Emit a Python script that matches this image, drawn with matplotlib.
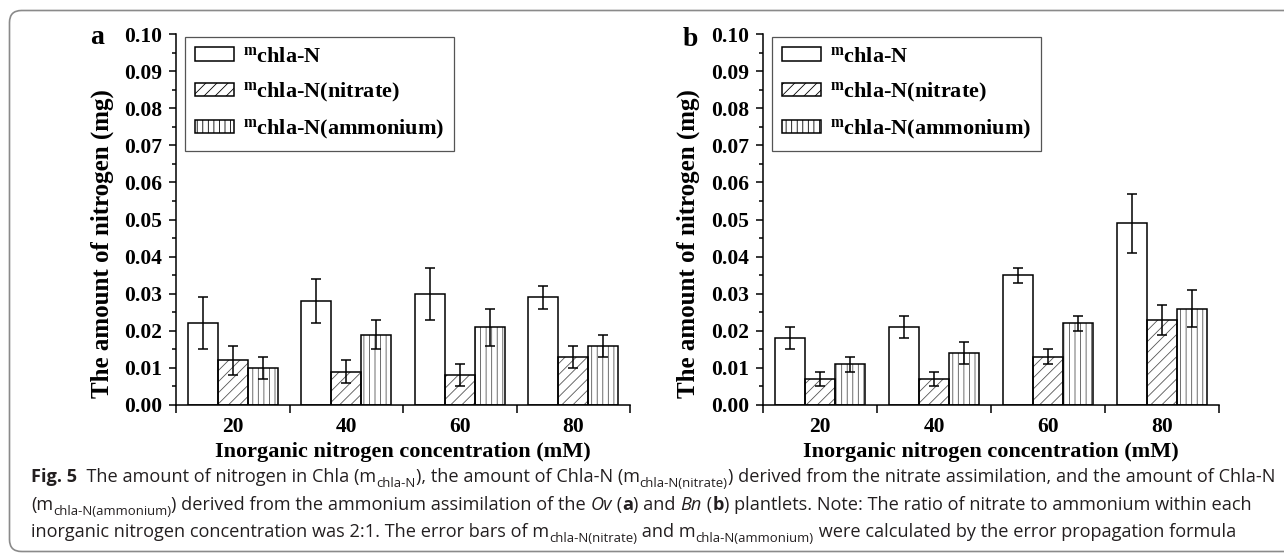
import matplotlib
matplotlib.use('Agg')
import matplotlib.pyplot as plt
import numpy as np
from matplotlib.patches import FancyBboxPatch, Rectangle
from matplotlib.transforms import IdentityTransform
from matplotlib.font_manager import FontProperties
from matplotlib.ticker import FormatStrFormatter

plt.rcParams['font.family'] = 'Liberation Serif'
plt.rcParams['font.weight'] = 'bold'
plt.rcParams['mathtext.fontset'] = 'custom'
plt.rcParams['mathtext.rm'] = 'Liberation Serif:bold'
plt.rcParams['mathtext.it'] = 'Liberation Serif:bold:italic'
plt.rcParams['mathtext.bf'] = 'Liberation Serif:bold'
plt.rcParams['hatch.linewidth'] = 0.6

# ---------------- data ----------------
categories = ['20', '40', '60', '80']
series_labels = [r'$^{\rm m}$chla-N', r'$^{\rm m}$chla-N(nitrate)', r'$^{\rm m}$chla-N(ammonium)']

a_total = [0.022, 0.028, 0.030, 0.029]
a_total_err = [0.007, 0.006, 0.007, 0.003]
a_nitrate = [0.012, 0.009, 0.008, 0.013]
a_nitrate_err = [0.004, 0.003, 0.003, 0.003]
a_ammonium = [0.010, 0.019, 0.021, 0.016]
a_ammonium_err = [0.003, 0.004, 0.005, 0.003]

b_total = [0.018, 0.021, 0.035, 0.049]
b_total_err = [0.003, 0.003, 0.002, 0.008]
b_nitrate = [0.007, 0.007, 0.013, 0.023]
b_nitrate_err = [0.002, 0.002, 0.002, 0.004]
b_ammonium = [0.011, 0.014, 0.022, 0.026]
b_ammonium_err = [0.002, 0.003, 0.002, 0.005]

y_ticks = [0.00, 0.01, 0.02, 0.03, 0.04, 0.05, 0.06, 0.07, 0.08, 0.09, 0.10]
xlabel_text = 'Inorganic nitrogen concentration (mM)'
ylabel_text = 'The amount of nitrogen (mg)'

# ---------------- figure ----------------
W, H = 1284, 555
fig = plt.figure(figsize=(W / 100, H / 100), dpi=100)
fig.patch.set_facecolor('white')

# outer rounded frame
frame = FancyBboxPatch((9.5, 3.5), 1330, 541, boxstyle='round,pad=0,rounding_size=12',
                       transform=IdentityTransform(), fill=False, edgecolor='#8a8a8a',
                       linewidth=1.2, zorder=0)
fig.patches.append(frame)


def px_axes(l, t, r, b):
    return fig.add_axes([l / W, 1 - b / H, (r - l) / W, (b - t) / H])


hatches = [None, '///', '|||']


def draw_panel(ax, vals, errs, letter, letter_xy):
    x = np.arange(len(categories))
    w = 0.265
    offsets = [-w, 0, w]
    for i, (v, e) in enumerate(zip(vals, errs)):
        pos = x + offsets[i]
        if hatches[i]:
            ax.bar(pos, v, w, color='white', edgecolor='#555555', hatch=hatches[i],
                   linewidth=0, zorder=2)
        else:
            ax.bar(pos, v, w, color='white', linewidth=0, zorder=2)
        ax.bar(pos, v, w, fill=False, edgecolor='black', linewidth=1.1, zorder=3)
        ax.errorbar(pos, v, yerr=e, fmt='none', ecolor='black', elinewidth=1.1,
                    capsize=3.6, capthick=1.1, zorder=4)

    ax.set_xlim(-0.5, len(categories) - 0.5)
    ax.set_ylim(0, 0.1)
    for s in ['top', 'right']:
        ax.spines[s].set_visible(False)
    for s in ['left', 'bottom']:
        ax.spines[s].set_linewidth(1.1)

    ax.set_xticks(np.arange(-0.5, len(categories), 1.0))
    ax.set_xticklabels([])
    ax.set_xticks(x, minor=True)
    ax.set_xticklabels(categories, minor=True)
    ax.tick_params(axis='x', which='major', direction='out', length=6, width=1.1)
    ax.tick_params(axis='x', which='minor', length=0, pad=9, labelsize=15.5)

    ax.set_yticks(y_ticks)
    ax.yaxis.set_major_formatter(FormatStrFormatter('%.2f'))
    ax.set_yticks(np.arange(0.005, 0.1, 0.01), minor=True)
    ax.tick_params(axis='y', which='major', direction='out', length=5, width=1.1,
                   pad=5, labelsize=15.5)
    ax.tick_params(axis='y', which='minor', direction='out', length=3, width=1.1)

    ax.set_xlabel(xlabel_text, fontsize=16, fontweight='bold')
    ax.xaxis.set_label_coords(0.5, -0.127)
    ax.xaxis.label.set_va('center')
    ax.set_ylabel(ylabel_text, fontsize=18, fontweight='bold')
    ax.yaxis.set_label_coords(-0.163, 0.434)
    ax.yaxis.label.set_va('center')
    ax.yaxis.label.set_ha('center')

    handles = []
    for i in range(3):
        handles.append(Rectangle((0, 0), 1, 1, facecolor='white', edgecolor='black',
                                 hatch=hatches[i], linewidth=1.1))
    leg = ax.legend(handles, series_labels, loc='upper left',
                    bbox_to_anchor=(0.02, 0.992), borderaxespad=0, fontsize=16,
                    handlelength=1.75, handleheight=0.55, handletextpad=0.4,
                    labelspacing=0.62, borderpad=0.45, fancybox=False,
                    edgecolor='#555555', framealpha=1)
    leg.get_frame().set_linewidth(0.9)

    fig.text(letter_xy[0], H - letter_xy[1], letter, transform=IdentityTransform(),
             ha='center', va='center', fontsize=20, fontweight='bold')


axA = px_axes(176, 34, 630, 405)
axB = px_axes(763, 34, 1219, 405)
draw_panel(axA, [a_total, a_nitrate, a_ammonium],
           [a_total_err, a_nitrate_err, a_ammonium_err], 'a', (97, 38))
draw_panel(axB, [b_total, b_nitrate, b_ammonium],
           [b_total_err, b_nitrate_err, b_ammonium_err], 'b', (690, 39))

# ---------------- caption ----------------
cap_lines = [
    [('Fig. 5', 'b'), ('  The amount of nitrogen in Chla (m', 'r'), ('chla-N', 's'),
     ('), the amount of Chla-N (m', 'r'), ('chla-N(nitrate)', 's'),
     (') derived from the nitrate assimilation, and the amount of Chla-N', 'r')],
    [('(m', 'r'), ('chla-N(ammonium)', 's'),
     (') derived from the ammonium assimilation of the ', 'r'), ('Ov', 'i'), (' (', 'r'),
     ('a', 'b'), (') and ', 'r'), ('Bn', 'i'), (' (', 'r'), ('b', 'b'),
     (') plantlets. Note: The ratio of nitrate to ammonium within each', 'r')],
    [('inorganic nitrogen concentration was 2:1. The error bars of m', 'r'),
     ('chla-N(nitrate)', 's'), (' and m', 'r'), ('chla-N(ammonium)', 's'),
     (' were calculated by the error propagation formula', 'r')],
]
cap_family = ['Open Sans', 'DejaVu Sans']
cap_color = '#231f20'
renderer = fig.canvas.get_renderer()


def run_prop(kind, size):
    if kind == 'b':
        return FontProperties(family=cap_family, weight='bold', size=size)
    if kind == 'i':
        return FontProperties(family=cap_family, style='italic', weight='normal', size=size)
    if kind == 's':
        return FontProperties(family=cap_family, weight='normal', size=size * 0.72)
    return FontProperties(family=cap_family, weight='normal', size=size)


def text_w(s, prop):
    w1 = renderer.get_text_width_height_descent('|' + s + '|', prop, ismath=False)[0]
    w0 = renderer.get_text_width_height_descent('||', prop, ismath=False)[0]
    return w1 - w0


def line_width(runs, size):
    return sum(text_w(t, run_prop(k, size)) for t, k in runs)


base_size = 10.0
target = 1246.0
cap_size = base_size * target / line_width(cap_lines[0], base_size)
cap_x0 = 31
baselines = [482, 510, 537]
for runs, yb in zip(cap_lines, baselines):
    x = cap_x0
    for t, k in runs:
        prop = run_prop(k, cap_size)
        dy = -cap_size * 100 / 72 * 0.28 if k == 's' else 0
        fig.text(x, H - yb + dy, t, transform=IdentityTransform(), fontproperties=prop,
                 color=cap_color, ha='left', va='baseline')
        x += text_w(t, prop)

fig.savefig('out.png', dpi=100, facecolor='white')
